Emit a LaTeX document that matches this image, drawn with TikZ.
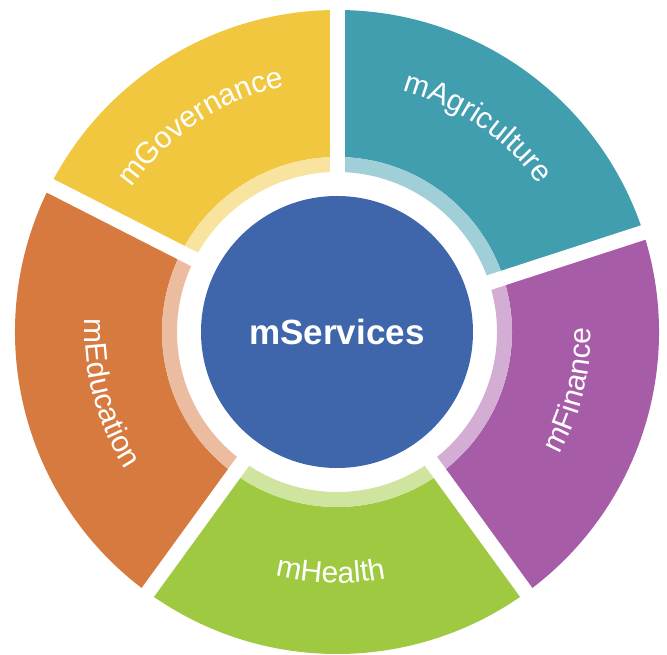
\documentclass[tikz,border=0pt]{standalone}
\usepackage{fontspec}
\setmainfont{Liberation Sans}
\usetikzlibrary{decorations.text}

\definecolor{govcolor}{HTML}{F1C740}
\definecolor{agricolor}{HTML}{419EAF}
\definecolor{fincolor}{HTML}{A75CA8}
\definecolor{healthcolor}{HTML}{9EC940}
\definecolor{educolor}{HTML}{D77A3F}
\definecolor{hubcolor}{HTML}{3F66AA}

\newcommand{\labelfont}{\fontsize{30}{32}\selectfont}

\tikzstyle{hub}=[circle,fill=hubcolor,minimum size=272pt,inner sep=0pt,text=white,font=\fontsize{35}{38}\selectfont\bfseries]
\tikzstyle{gapline}=[draw=white,line width=15pt]
\tikzstyle{arclabel}=[decorate,decoration={text along path,text align=center,text color=white}]

\begin{document}
\begin{tikzpicture}[x=1pt,y=1pt]
     \useasboundingbox (0,0) rectangle (667,655);
     \begin{scope}[shift={(337,323)}]
     % First we draw the five sectors and their light inner rims
     \foreach \from/\to/\name in {90/153/govcolor, 18/90/agricolor,
       -54/18/fincolor, -126/-54/healthcolor, 153/234/educolor}
     {
       \fill[\name] (\from:322) arc[start angle=\from, end angle=\to, radius=322]
         -- (\to:175) arc[start angle=\to, end angle=\from, radius=175] -- cycle;
       \fill[\name!50!white] (\from:175) arc[start angle=\from, end angle=\to, radius=175]
         -- (\to:160) arc[start angle=\to, end angle=\from, radius=160] -- cycle;
     }

     % White bands between the sectors
     \foreach \a in {90,18,-54,-126,153}
     \draw[gapline] (0,0) -- (\a:345);

     % The hub in the middle
     \node[hub] (hub) at (0,0) {mServices};

     % Labels set along the arcs
     \path[arclabel,decoration={text={|\labelfont|mGovernance}}]
       (168.5:251) arc[start angle=168.5, end angle=78.5, radius=251];
     \path[arclabel,decoration={text={|\labelfont|mAgriculture}}]
       (100.5:250) arc[start angle=100.5, end angle=10.5, radius=250];
     \path[arclabel,decoration={text={|\labelfont|mFinance}}]
       (-59:254) arc[start angle=-59, end angle=31, radius=254];
     \path[arclabel,decoration={text={|\labelfont|mHealth}}]
       (-136.5:251) arc[start angle=-136.5, end angle=-46.5, radius=251];
     \path[arclabel,decoration={text={|\labelfont|mEducation}}]
       (150:252) arc[start angle=150, end angle=240, radius=252];
     \end{scope}
\end{tikzpicture}
\end{document}
